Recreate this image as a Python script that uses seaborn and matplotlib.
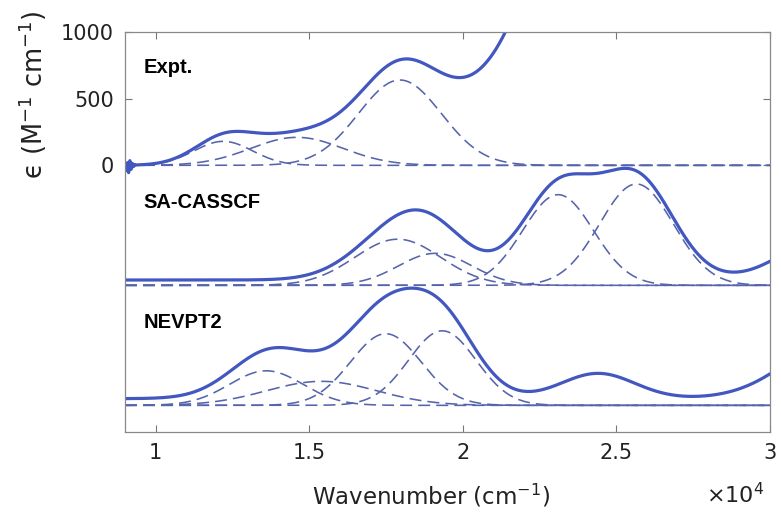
import numpy as np
import matplotlib
matplotlib.use("Agg")
import matplotlib.pyplot as plt
from matplotlib.ticker import FixedLocator, FuncFormatter
import seaborn as sns

# ---- band parameters (center cm^-1, height M^-1 cm^-1, gaussian sigma cm^-1) ----
expt_centers = [12200, 14600, 17950]
expt_heights = [180, 210, 640]
expt_sigmas = [950, 1500, 1350]
# charge-transfer band rising into the UV (only in the measured trace)
expt_uv_center = [39750]
expt_uv_height = [124000]
expt_uv_sigma = [5900]
# noisy onset of the measured trace
expt_noise_x = [9000, 9040, 9080, 9120, 9160, 9200, 9240, 9280, 9320]
expt_noise_y = [-10, -40, 20, -55, 35, -30, 15, -10, 6]

cas_centers = [17880, 19100, 23100, 25650]
cas_heights = [346, 240, 680, 760]
cas_sigmas = [1400, 1200, 1150, 1200]
cas_extra_centers = [32000]
cas_extra_heights = [340]
cas_extra_sigmas = [1500]
cas_background = 40

nev_centers = [13600, 15400, 17490, 19330]
nev_heights = [259, 180, 537, 559]
nev_sigmas = [1200, 1800, 1150, 1100]
nev_extra_centers = [24400, 32500]
nev_extra_heights = [190, 490]
nev_extra_sigmas = [1200, 1800]
nev_background = 50

panel_offsets = [0, -900, -1800]
panel_names = ["Expt.", "SA-CASSCF", "NEVPT2"]

x_ticks = [10000, 15000, 20000, 25000, 30000]
y_ticks = [0, 500, 1000]

SOLID = "#4257bf"
DASH = "#5664ac"


def gauss(x, c, h, s):
    return h * np.exp(-((x - c) ** 2) / (2.0 * s ** 2))


def band_sum(x, centers, heights, sigmas):
    out = np.zeros_like(x)
    for c, h, s in zip(centers, heights, sigmas):
        out += gauss(x, c, h, s)
    return out


sns.set_theme(style="white")
plt.rcParams["font.family"] = ["DejaVu Sans"]
plt.rcParams["mathtext.default"] = "regular"

fig = plt.figure(figsize=(7.81, 5.22), dpi=100)
ax = fig.add_axes([0.160, 0.1724, 0.826, 0.7663])

x = np.linspace(9000, 30000, 1400)
dash_style = (0, (7.5, 3.8))


def dashed(xv, yv):
    sns.lineplot(x=xv, y=yv, ax=ax, color=DASH, lw=1.15, linestyle=dash_style,
                 errorbar=None, sort=False, estimator=None)


def solid(xv, yv):
    sns.lineplot(x=xv, y=yv, ax=ax, color=SOLID, lw=2.3,
                 errorbar=None, sort=False, estimator=None)


# Experimental panel
off = panel_offsets[0]
for c, h, s in zip(expt_centers, expt_heights, expt_sigmas):
    dashed(x, off + gauss(x, c, h, s))
xe = x[x >= expt_noise_x[-1]]
expt_trace = (band_sum(xe, expt_centers, expt_heights, expt_sigmas)
              + band_sum(xe, expt_uv_center, expt_uv_height, expt_uv_sigma))
solid(np.array(expt_noise_x, float), off + np.array(expt_noise_y, float))
solid(xe, off + expt_trace)

# SA-CASSCF panel
off = panel_offsets[1]
for c, h, s in zip(cas_centers, cas_heights, cas_sigmas):
    dashed(x, off + gauss(x, c, h, s))
cas_trace = (cas_background + band_sum(x, cas_centers, cas_heights, cas_sigmas)
             + band_sum(x, cas_extra_centers, cas_extra_heights, cas_extra_sigmas))
solid(x, off + cas_trace)

# NEVPT2 panel
off = panel_offsets[2]
for c, h, s in zip(nev_centers, nev_heights, nev_sigmas):
    dashed(x, off + gauss(x, c, h, s))
nev_trace = (nev_background + band_sum(x, nev_centers, nev_heights, nev_sigmas)
             + band_sum(x, nev_extra_centers, nev_extra_heights, nev_extra_sigmas))
solid(x, off + nev_trace)

# panel labels
label_y = [730, -275, -1180]
for name, yy in zip(panel_names, label_y):
    ax.text(9610, yy, name, fontsize=14.5, fontweight="bold", va="center",
            ha="left", color="black", family="Liberation Sans")

ax.set_xlim(9000, 30000)
ax.set_ylim(-2000, 1000)

ax.xaxis.set_major_locator(FixedLocator(x_ticks))
ax.xaxis.set_major_formatter(FuncFormatter(lambda v, p: f"{v / 1e4:g}"))
ax.yaxis.set_major_locator(FixedLocator(y_ticks))

ax.tick_params(direction="in", length=5, width=0.8, color="#777777",
               labelsize=15, top=True, right=True, bottom=True, left=True,
               labelcolor="#222222", pad=8)
for sp in ax.spines.values():
    sp.set_visible(True)
    sp.set_color("#888888")
    sp.set_linewidth(0.9)

ax.set_xlabel("Wavenumber (cm$^{-1}$)", fontsize=16.5, color="#222222")
ax.set_ylabel("\u03f5 (M$^{-1}$ cm$^{-1}$)", fontsize=18.5, color="#222222")
ax.yaxis.set_label_coords(-0.118, 0.843)
ax.xaxis.set_label_coords(0.475, -0.125)
fig.text(0.941, 0.052, "\u00d710$^{4}$", fontsize=16, ha="center", va="center",
         color="#222222")
ax.grid(False)

fig.savefig("out.png", dpi=100, facecolor="white")
